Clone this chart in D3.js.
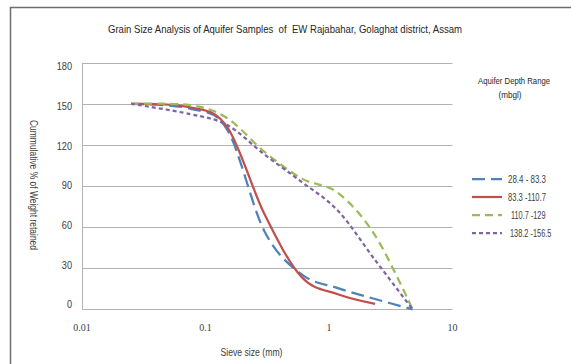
<!DOCTYPE html>
<html><head><meta charset="utf-8">
<script src="https://cdn.jsdelivr.net/npm/d3@7"></script>
<style>
html,body{margin:0;padding:0;background:#fff;overflow:hidden;}
text{font-family:'Liberation Sans Narrow','Arial Narrow','Liberation Sans',Arial,sans-serif;white-space:pre;}
</style></head>
<body>
<svg id="c" width="571" height="364"></svg>
<script>
// ---- data ----
const sieveSizes = [0.025, 0.075, 0.15, 0.3, 0.6, 1.18, 2.36, 4.75];
const series1 = [150, 146.5, 131, 57, 25.5, 15.5, 7.5, 0];      // 28.4 - 83.3
const series2 = [150, 147.5, 133, 69.5, 23.5, 11, 4];           // 83.3 -110.7
const series3 = [150, 149, 139.5, 115, 95.5, 85, 54, 0];        // 110.7 -129
const series4 = [150, 142.5, 134.5, 113, 93, 72, 36, 0];        // 138.2 -156.5
const seriesNames = ["28.4 - 83.3", "83.3 -110.7", "110.7 -129", "138.2 -156.5"];
const yTicks = [0, 30, 60, 90, 120, 150, 180];
const xTicks = [0.01, 0.1, 1, 10];
const xTickLabels = ["0.01", "0.1", "1", "10"];
const titleText = "Grain Size Analysis of Aquifer Samples  of  EW Rajabahar, Golaghat district, Assam";
const yTitle = "Cummulative % of Weight retained";
const xTitle = "Sieve size (mm)";
const legendTitle = ["Aquifer Depth Range", "(mbgl)"];

// ---- styles ----
const colors = ["#4F81BD", "#C0504D", "#9BBB59", "#8064A2"];
const dashes = ["13,6", null, "8,5", "4,3"];

const svg = d3.select("#c");
// outer chart border (only top/left visible)
svg.append("rect").attr("x", 10.5).attr("y", 7.5).attr("width", 700).attr("height", 500)
  .attr("fill", "none").attr("stroke", "#6d6d6d").attr("stroke-width", 1.5);

const x = d3.scaleLog().domain([0.01, 10]).range([82, 452.5]);
const y = d3.scaleLinear().domain([0, 180]).range([309.3, 62.7]);
const yLab = d3.scaleLinear().domain([0, 180]).range([304.5, 66.5]);

// gridlines
svg.append("g").selectAll("line").data(yTicks).join("line")
  .attr("x1", x(0.01)).attr("x2", x(10))
  .attr("y1", d => Math.round(y(d)) + 0.5).attr("y2", d => Math.round(y(d)) + 0.5)
  .attr("stroke", "#b3b3b3").attr("stroke-width", 1);
// left axis line
svg.append("line").attr("x1", Math.round(x(0.01)) + 0.5).attr("x2", Math.round(x(0.01)) + 0.5)
  .attr("y1", y(180)).attr("y2", y(0)).attr("stroke", "#b3b3b3").attr("stroke-width", 1);

// y tick labels
svg.append("g").selectAll("text").data(yTicks).join("text")
  .attr("x", 72).attr("y", d => yLab(d) + 3.8).attr("text-anchor", "end")
  .attr("font-size", 10.5).attr("fill", "#404040")
  .attr("textLength", d => String(d).length * 5.1).attr("lengthAdjust", "spacingAndGlyphs")
  .text(d => d);

// x tick labels
svg.append("g").selectAll("text").data(xTicks).join("text")
  .attr("x", d => x(d)).attr("y", 331).attr("text-anchor", "middle")
  .style("font-family", "'Liberation Serif','DejaVu Serif',serif")
  .attr("font-size", 10).attr("fill", "#404040").text((d, i) => xTickLabels[i]);

// lines
const line = d3.line().x(d => x(d[0])).y(d => y(d[1])).curve(d3.curveCatmullRom.alpha(0));
const allSeries = [series1, series2, series3, series4];
allSeries.forEach((s, i) => {
  const pts = s.map((v, j) => [sieveSizes[j], v]);
  svg.append("path").attr("d", line(pts)).attr("fill", "none")
    .attr("stroke", colors[i]).attr("stroke-width", 2.25)
    .attr("stroke-dasharray", dashes[i]);
});

// title
svg.append("text").attr("x", 285).attr("y", 33).attr("text-anchor", "middle")
  .attr("font-size", 10.5).attr("fill", "#262626")
  .attr("textLength", 354).attr("lengthAdjust", "spacingAndGlyphs").text(titleText);

// y title
svg.append("text").attr("transform", "translate(29.5,185) rotate(90)").attr("text-anchor", "middle")
  .attr("font-size", 10).attr("fill", "#404040")
  .attr("textLength", 130).attr("lengthAdjust", "spacingAndGlyphs").text(yTitle);

// x title
svg.append("text").attr("x", 251.5).attr("y", 356).attr("text-anchor", "middle")
  .attr("font-size", 10).attr("fill", "#404040")
  .attr("textLength", 62).attr("lengthAdjust", "spacingAndGlyphs").text(xTitle);

// legend
svg.append("text").attr("x", 514).attr("y", 84).attr("text-anchor", "middle")
  .attr("font-size", 9.5).attr("fill", "#262626")
  .attr("textLength", 72).attr("lengthAdjust", "spacingAndGlyphs").text(legendTitle[0]);
svg.append("text").attr("x", 510).attr("y", 98).attr("text-anchor", "middle")
  .attr("font-size", 9.5).attr("fill", "#262626")
  .attr("textLength", 23).attr("lengthAdjust", "spacingAndGlyphs").text(legendTitle[1]);
const legY = [179, 197, 215, 233];
const legTextX = [508, 508, 511, 510];
seriesNames.forEach((n, i) => {
  svg.append("line").attr("x1", 472).attr("x2", 502).attr("y1", legY[i]).attr("y2", legY[i])
    .attr("stroke", colors[i]).attr("stroke-width", 2.25).attr("stroke-dasharray", dashes[i]);
  svg.append("text").attr("x", legTextX[i]).attr("y", legY[i] + 3.8)
    .attr("font-size", 10.5).attr("fill", "#404040")
    .attr("textLength", n.length * 3.45).attr("lengthAdjust", "spacingAndGlyphs").text(n);
});
</script>
</body></html>
